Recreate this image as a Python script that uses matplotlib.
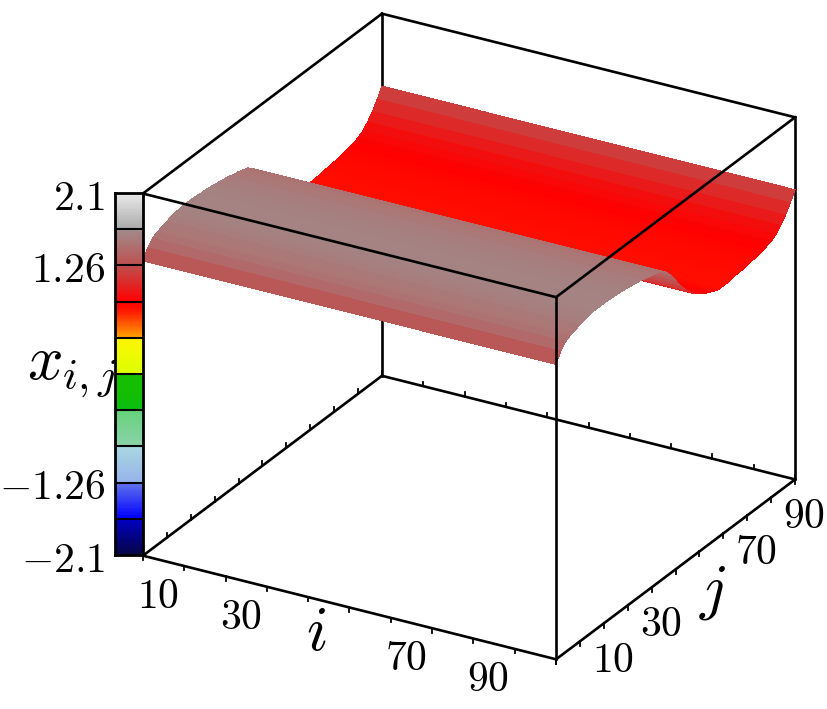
import numpy as np
import matplotlib
matplotlib.use('Agg')
import matplotlib.pyplot as plt
from matplotlib.colors import LinearSegmentedColormap, Normalize

plt.rcParams['mathtext.fontset'] = 'cm'

# profile of the surface along j (it hardly changes along i)
j_values = list(range(0, 101, 2))
x_profile = [1.32, 1.43, 1.50, 1.53, 1.55, 1.57, 1.59, 1.60, 1.61, 1.61,
             1.61, 1.61, 1.60, 1.60, 1.59, 1.58, 1.57, 1.56, 1.55, 1.53,
             1.52, 1.50, 1.48, 1.43, 1.35, 1.25, 1.15, 1.06, 0.99, 0.93,
             0.89, 0.85, 0.82, 0.79, 0.77, 0.77, 0.77, 0.78, 0.79, 0.79,
             0.80, 0.81, 0.82, 0.83, 0.85, 0.87, 0.91, 0.97, 1.05, 1.15, 1.26]
i_values = list(range(0, 101, 2))

tick_positions = [0, 10, 20, 30, 40, 50, 60, 70, 80, 90, 100]
i_labels = [10, 30, 70, 90]
j_labels = [10, 30, 70, 90]

cbar_ticks = [-2.1, -1.26, 1.26, 2.1]
cbar_ticklabels = ['$-2.1$', '$-1.26$', '$1.26$', '$2.1$']
cbar_edges = [-2.1, -1.68, -1.26, -0.84, -0.42, 0.0, 0.42, 0.84, 1.26, 1.68, 2.1]

# value, colour of the colour scale
cmap_values = [-2.1, -1.68, -1.68, -1.26, -1.26, -0.84, -0.84, -0.42, -0.42, -0.21,
               0.0, 0.0, 0.42, 0.42, 0.74, 0.84, 1.26, 1.68, 1.68, 2.1]
cmap_colors = ['#050546', '#0000c8', '#0000ff', '#6478eb', '#96b4eb', '#aad7e1',
               '#8cd2aa', '#64d278', '#0abe14', '#14be00',
               '#14be00', '#dcff00', '#fff500', '#ffa000', '#ff1400', '#ff0000',
               '#be5050', '#a08c8c', '#aaaaaa', '#ebebeb']

vmin, vmax = -2.1, 2.1
norm = Normalize(vmin, vmax)
cmap = LinearSegmentedColormap.from_list(
    'xij', [(norm(v), c) for v, c in zip(cmap_values, cmap_colors)], N=512)

W, H = 827, 709
fig = plt.figure(figsize=(W / 100, H / 100), dpi=100)

# 3d box
ax = fig.add_axes([77.2 / W, -19.3 / H, 763 / W, 763 / H], projection='3d',
                  proj_type='ortho', computed_zorder=False)
ax.set_axis_off()
ax.view_init(elev=25.75, azim=-60)
ax.set_box_aspect((477, 478, 402))
ax.set_xlim(0, 100, view_margin=0)
ax.set_ylim(0, 100, view_margin=0)
ax.set_zlim(vmin, vmax, view_margin=0)

II, JJ = np.meshgrid(i_values, j_values)
ZZ = np.tile(np.array(x_profile), (len(i_values), 1)).T
ax.plot_surface(II, JJ, ZZ, rstride=1, cstride=1, facecolors=cmap(norm(ZZ)),
                shade=False, linewidth=0, antialiased=False, zorder=2)

lw = 1.9
back_edges = [((0, 100), (100, 100), (vmin, vmin)),
              ((0, 0), (0, 100), (vmin, vmin)),
              ((0, 0), (100, 100), (vmin, vmax)),
              ((100, 100), (100, 100), (vmin, vmax)),
              ((0, 100), (100, 100), (vmax, vmax)),
              ((0, 0), (0, 100), (vmax, vmax))]
front_edges = [((0, 100), (0, 0), (vmin, vmin)),
               ((100, 100), (0, 100), (vmin, vmin)),
               ((100, 100), (0, 0), (vmin, vmax)),
               ((0, 100), (0, 0), (vmax, vmax)),
               ((100, 100), (0, 100), (vmax, vmax))]
for e in back_edges:
    ax.plot(e[0], e[1], e[2], color='k', lw=lw, zorder=1)
for e in front_edges:
    ax.plot(e[0], e[1], e[2], color='k', lw=lw, zorder=3)

# little ticks on the floor of the box
for t in tick_positions:
    ax.plot((t, t), (0, 0), (vmin, vmin - 0.05), color='k', lw=1.3, zorder=3)
    ax.plot((100, 100), (t, t), (vmin, vmin - 0.05), color='k', lw=1.3, zorder=3)
    ax.plot((t, t), (100, 100), (vmin, vmin + 0.05), color='k', lw=1.3, zorder=1)
    ax.plot((0, 0), (t, t), (vmin, vmin + 0.05), color='k', lw=1.3, zorder=3)

for t in i_labels:
    ax.text(t, -11, vmin - 0.12, '$%d$' % t, fontsize=30, ha='center', va='center')
for t in j_labels:
    ax.text(108, t, vmin - 0.12, '$%d$' % t, fontsize=30, ha='center', va='center')
ax.text(50, -14, vmin, '$i$', fontsize=45, ha='center', va='center')
ax.text(109, 50, vmin - 0.15, '$j$', fontsize=45, ha='center', va='center')

# colour bar on the left of the box
cax = fig.add_axes([115 / W, (H - 555) / H, 28 / W, 362 / H], zorder=5)
cax.patch.set_alpha(0)
grad = np.array(sorted(set(np.round(np.linspace(vmin, vmax, 421), 3))))
cax.pcolormesh([0, 1], grad, grad[:-1].reshape(-1, 1), cmap=cmap, norm=norm)
cax.hlines(cbar_edges[1:-1], 0, 1, color='k', lw=1.5)
cax.set_xlim(0, 1)
cax.set_ylim(vmin, vmax)
cax.set_xticks([])
cax.set_yticks(cbar_ticks)
cax.set_yticklabels(cbar_ticklabels, fontsize=30)
cax.tick_params(axis='y', length=0, pad=7)
for s in cax.spines.values():
    s.set_linewidth(2.0)

fig.text(72 / W, (H - 370) / H, '$x_{i,j}$', fontsize=45, ha='center', va='center')

fig.savefig('out.png', dpi=100)
